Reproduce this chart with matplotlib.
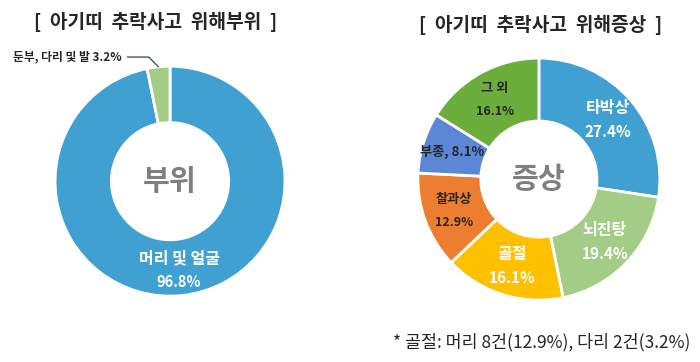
import numpy as np
import matplotlib.pyplot as plt

plt.rcParams['font.family'] = ['Noto Sans CJK KR', 'DejaVu Sans']


# data

part_labels = ['머리 및 얼굴', '둔부, 다리 및 발']
part_values = [96.8, 3.2]
part_colors = ['#41A0D2', '#A3CD86']

sym_labels = ['타박상', '뇌진탕', '골절', '찰과상', '부종', '그 외']
sym_values = [27.4, 19.4, 16.1, 12.9, 8.1, 16.1]
sym_colors = ['#41A0D2', '#A3CD86', '#FFC000', '#ED7D31', '#5B87D6', '#6BAE3C']
sym_text = ['white', 'white', 'white', '#262626', '#262626', '#262626']
sym_size = [11.5, 11.5, 11.5, 9.5, 9.5, 9.5]

note = '* 골절: 머리 8건(12.9%), 다리 2건(3.2%)'


fig = plt.figure(figsize=(7, 3.62), dpi=100)
fig.patch.set_facecolor('white')


def mid_angle(values, i):
    # wedges start at the top and go clockwise
    c = sum(values[:i]) + values[i] / 2
    return np.deg2rad(90 - c / sum(values) * 360)


#LEFT DONUT

ax1 = fig.add_axes([0.0786, 0.182, 0.3286, 0.635])
ax1.pie(part_values, colors=part_colors, startangle=90, counterclock=False,
        radius=1, wedgeprops=dict(width=0.49, edgecolor='white', linewidth=2))
ax1.set_xlim(-1, 1)
ax1.set_ylim(-1, 1)
ax1.set_aspect('equal')
ax1.axis('off')

a = mid_angle(part_values, 0)
ax1.text(0.78 * np.cos(a), 0.78 * np.sin(a) + 0.1, part_labels[0], color='white',
         fontsize=11.5, fontweight='bold', ha='center', va='center')
ax1.text(0.78 * np.cos(a), 0.78 * np.sin(a) - 0.1, f'{part_values[0]}%', color='white',
         fontsize=10.5, fontweight='bold', ha='center', va='center')

a = mid_angle(part_values, 1)
ax1.annotate(f'{part_labels[1]} {part_values[1]}%',
             xy=(np.cos(a), np.sin(a)), xytext=(-0.42, 1.08),
             fontsize=8.5, fontweight='bold', color='#262626', ha='right', va='center',
             arrowprops=dict(arrowstyle='-', color='#44546A', lw=1,
                             shrinkA=2, shrinkB=0,
                             connectionstyle='angle,angleA=0,angleB=-45'))

ax1.text(0, 0, '부위', color='#7F7F7F', fontsize=21, fontweight='bold',
         ha='center', va='center')


#RIGHT DONUT

ax2 = fig.add_axes([0.597, 0.171, 0.3457, 0.6685])
ax2.pie(sym_values, colors=sym_colors, startangle=90, counterclock=False,
        radius=1, wedgeprops=dict(width=0.52, edgecolor='white', linewidth=2))
ax2.set_xlim(-1, 1)
ax2.set_ylim(-1, 1)
ax2.set_aspect('equal')
ax2.axis('off')

for i in range(len(sym_values)):
    a = mid_angle(sym_values, i)
    x = 0.75 * np.cos(a)
    y = 0.75 * np.sin(a)
    if sym_labels[i] == '부종':
        ax2.text(x, y, f'{sym_labels[i]}, {sym_values[i]}%', color=sym_text[i],
                 fontsize=sym_size[i], fontweight='bold', ha='center', va='center')
    else:
        ax2.text(x, y + 0.1, sym_labels[i], color=sym_text[i],
                 fontsize=sym_size[i], fontweight='bold', ha='center', va='center')
        ax2.text(x, y - 0.1, f'{sym_values[i]}%', color=sym_text[i],
                 fontsize=sym_size[i] - 0.5, fontweight='bold', ha='center', va='center')

ax2.text(0, 0, '증상', color='#7F7F7F', fontsize=21, fontweight='bold',
         ha='center', va='center')


#TITLES AND NOTE

fig.text(156 / 700, 1 - 22 / 362, '[  아기띠  추락사고  위해부위  ]', fontsize=13.8,
         fontweight='bold', color='#262626', ha='center', va='center')
fig.text(541 / 700, 1 - 25 / 362, '[  아기띠  추락사고  위해증상  ]', fontsize=13.8,
         fontweight='bold', color='#262626', ha='center', va='center')
fig.text(690 / 700, 1 - 342 / 362, note, fontsize=12.5, color='#262626',
         ha='right', va='center')

plt.savefig('out.png', dpi=100, facecolor='white')
